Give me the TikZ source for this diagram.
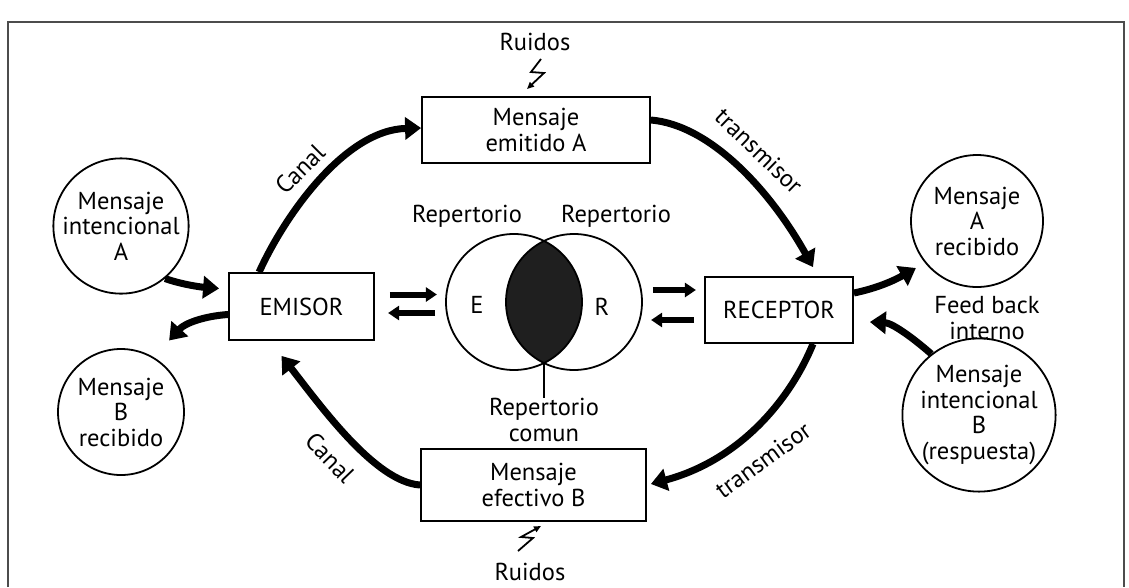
\documentclass[tikz,border=0pt]{standalone}
\usepackage{fontspec}
\setmainfont{PT Sans}
\usetikzlibrary{arrows.meta}
\newcommand\bigtxt{\fontsize{24.5}{25.5}\selectfont}
\begin{document}
\begin{tikzpicture}[x=1pt,y=-1pt,
  every node/.style={font=\bigtxt, align=center, inner sep=0pt},
  box/.style={draw, line width=1.8pt, rectangle},
  circ/.style={draw, line width=1.8pt, circle},
  bigarrow/.style={line width=7pt, -{Triangle[length=16pt,width=22pt]}},
  blockarrow/.style={line width=6pt, -{Triangle[length=11pt,width=14pt]}},
  bolt/.style={line width=1.8pt, -{Triangle[length=7pt,width=6pt]}}
]
\useasboundingbox (0,0) rectangle (1129,587);
\draw[line width=1.2pt, black!70] (8,587) -- (8,22) -- (1124,22) -- (1124,587);

% boxes
\node[box, minimum width=228pt, minimum height=66pt] (mA) at (536,130) {Mensaje\\emitido A};
\node[box, minimum width=145pt, minimum height=67pt] (em) at (301.5,306.5) {EMISOR};
\node[box, minimum width=148pt, minimum height=66pt] (re) at (779,310) {RECEPTOR};
\node[box, minimum width=225pt, minimum height=72pt] (mB) at (533.5,485) {Mensaje\\efectivo B};

% circles
\node[circ, minimum size=126pt] (mIA) at (121,226) {Mensaje\\intencional\\A};
\node[circ, minimum size=126pt] (mBr) at (121,412) {Mensaje\\B\\recibido};
\node[circ, minimum size=132pt] (mAr) at (977,221) {Mensaje\\A\\recibido};
\node[circ, minimum size=130pt] (mIB) at (979,415) {Mensaje\\intencional\\B\\(respuesta)};

% Venn
\coordinate (cL) at (514,302);
\coordinate (cR) at (574,302);
\begin{scope}
  \clip (cL) circle (68pt);
  \fill[black!88] (cR) circle (68pt);
\end{scope}
\node[circ, minimum size=136pt] (vL) at (cL) {};
\node[circ, minimum size=136pt] (vR) at (cR) {};
\node (E) at (477,305) {E};
\node (R) at (602,307) {R};
\node (repL) at (467,216) {Repertorio};
\node (repR) at (616,216) {Repertorio};
\coordinate (lensB) at (544,363);
\node (repC) at (544,420) {Repertorio\\comun};
\draw[line width=2pt] (lensB) -- (repC.north);

% Ruidos
\node (rT) at (535,42) {Ruidos};
\coordinate (bT) at (541,59);
\draw[bolt] (bT) -- (531,72) -- (544,73) -- (527,89);
\node (rB) at (530,572) {Ruidos};
\coordinate (bB) at (518,551);
\draw[bolt] (bB) -- (533,538) -- (521,537) -- (541,526);

% block arrow pairs
\draw[blockarrow] ([yshift=12pt]em.east) ++(15,0) -- ++(47,0);
\draw[blockarrow] ([yshift=-11pt]vL.west) ++(-10,0) -- ++(-47,0);
\draw[blockarrow] ([yshift=12pt]vR.east) ++(10,0) -- ++(43,0);
\draw[blockarrow] ([yshift=-10pt]re.west) ++(-10,0) -- ++(-43,0);

% big curved arrows
\draw[bigarrow] ([xshift=31pt]em.north west) .. controls (285,215) and (345,130) .. ([yshift=2pt]mA.west);
\draw[bigarrow] ([yshift=10pt]mA.east) .. controls (710,125) and (770,190) .. ([xshift=34pt,yshift=9pt]re.north);
\draw[bigarrow] ([xshift=34pt]re.south) .. controls (790,400) and (740,460) .. ([xshift=4pt,yshift=1pt]mB.east);
\draw[bigarrow] (mB.west) .. controls (375,482) and (320,405) .. ([xshift=-20pt,yshift=-15pt]em.south);

% small curved arrows
\draw[bigarrow] (mIA.-50) .. controls (180,284) and (200,287) .. ([xshift=-9pt,yshift=18pt]em.west);
\draw[bigarrow] ([yshift=-8pt]em.west) .. controls (205,316) and (185,323) .. ([xshift=-59pt,yshift=-34pt]em.west);
\draw[bigarrow] ([yshift=17pt]re.east) .. controls (878,288) and (895,280) .. ([xshift=62pt,yshift=42pt]re.east);
\draw[bigarrow] (mIB.128) .. controls (912,337) and (892,323) .. ([xshift=16pt,yshift=-12pt]re.east);

% labels on arrows
\node[rotate=45] (canT) at (300,169) {Canal};
\node[rotate=-44] (trT) at (759,151) {transmisor};
\node[rotate=36] (trB) at (763,460) {transmisor};
\node[rotate=-46] (canB) at (330,458) {Canal};
\node (fb) at (987,318) {Feed back\\interno};
\end{tikzpicture}
\end{document}
